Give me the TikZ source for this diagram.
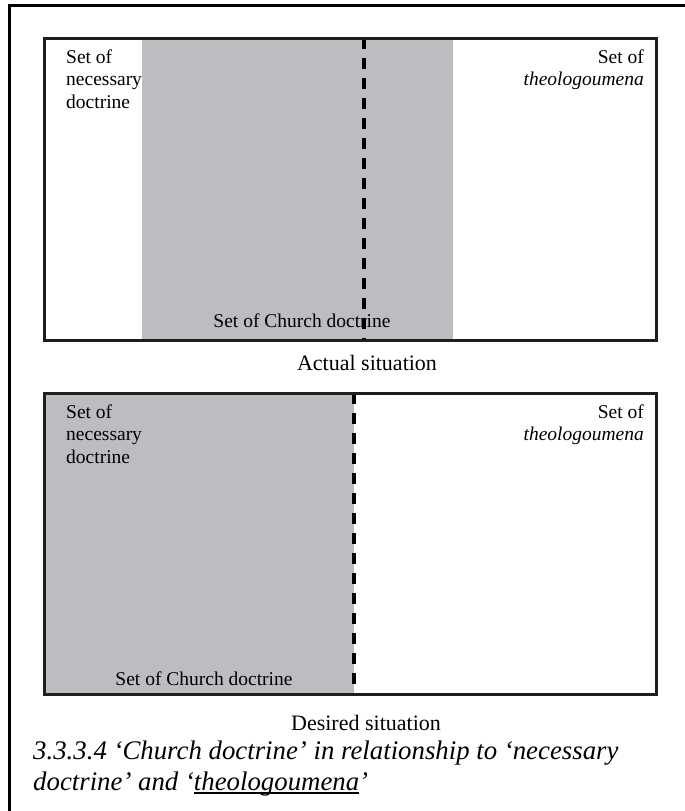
\documentclass[tikz,border=0pt]{standalone}
\usepackage{fontspec}
\setmainfont{Liberation Serif}
\definecolor{setgray}{RGB}{190,188,192}
\definecolor{edge}{RGB}{30,30,30}
\newcommand\myul[1]{\setbox0\hbox{#1}\rlap{\rule[-4pt]{\wd0}{1.6pt}}\box0}
\begin{document}
\begin{tikzpicture}[x=1pt,y=-1pt,
  boxlabel/.style={inner sep=0pt,font=\fontsize{19.5}{22.5}\selectfont},
  sitlabel/.style={inner sep=0pt,font=\fontsize{22}{25}\selectfont},
  setbox/.style={draw=edge,line width=3pt},
  grayset/.style={fill=setgray,draw=none},
  splitline/.style={draw=black,line width=3.5pt,dash pattern=on 11pt off 9pt}]
\useasboundingbox (0,0) rectangle (685,811);
% outer frame
\coordinate (fa) at (9,811);
\coordinate (fb) at (9,5);
\coordinate (fc) at (685,5);
\draw[line width=3pt] (fa) -- (fb) -- (fc);
% ---- top box (actual situation)
\fill[grayset] (142,38) rectangle (453,340);
\coordinate (d1a) at (364,38);
\coordinate (d1b) at (364,340);
\draw[splitline] (d1a) -- (d1b);
\draw[setbox] (44,38) rectangle (656,340);
\node[boxlabel,anchor=base west,align=left] (nec1) at (66,108) {Set of\\necessary\\doctrine};
\node[boxlabel,anchor=base east,align=right] (theo1) at (644,85.5) {Set of\\\textit{theologoumena}};
\node[boxlabel,anchor=base] (church1) at (302,327) {Set of Church doctrine};
\node[sitlabel,anchor=base] (actual) at (367,370) {Actual situation};
% ---- bottom box (desired situation)
\fill[grayset] (44,393) rectangle (354,694);
\coordinate (d2a) at (354,393);
\coordinate (d2b) at (354,694);
\draw[splitline] (d2a) -- (d2b);
\draw[setbox] (44,393) rectangle (656,694);
\node[boxlabel,anchor=base west,align=left] (nec2) at (66,463) {Set of\\necessary\\doctrine};
\node[boxlabel,anchor=base east,align=right] (theo2) at (644,440.5) {Set of\\\textit{theologoumena}};
\node[boxlabel,anchor=base] (church2) at (204,685) {Set of Church doctrine};
\node[sitlabel,anchor=base] (desired) at (366,730) {Desired situation};
% caption
\node[inner sep=0pt,anchor=base west,font=\fontsize{26.8}{31}\selectfont\itshape] (cap1) at (33,759) {3.3.3.4 `Church doctrine' in relationship to `necessary};
\node[inner sep=0pt,anchor=base west,font=\fontsize{26.8}{31}\selectfont\itshape] (cap2) at (33,790) {doctrine' and `\myul{theologoumena}'};
\end{tikzpicture}
\end{document}
